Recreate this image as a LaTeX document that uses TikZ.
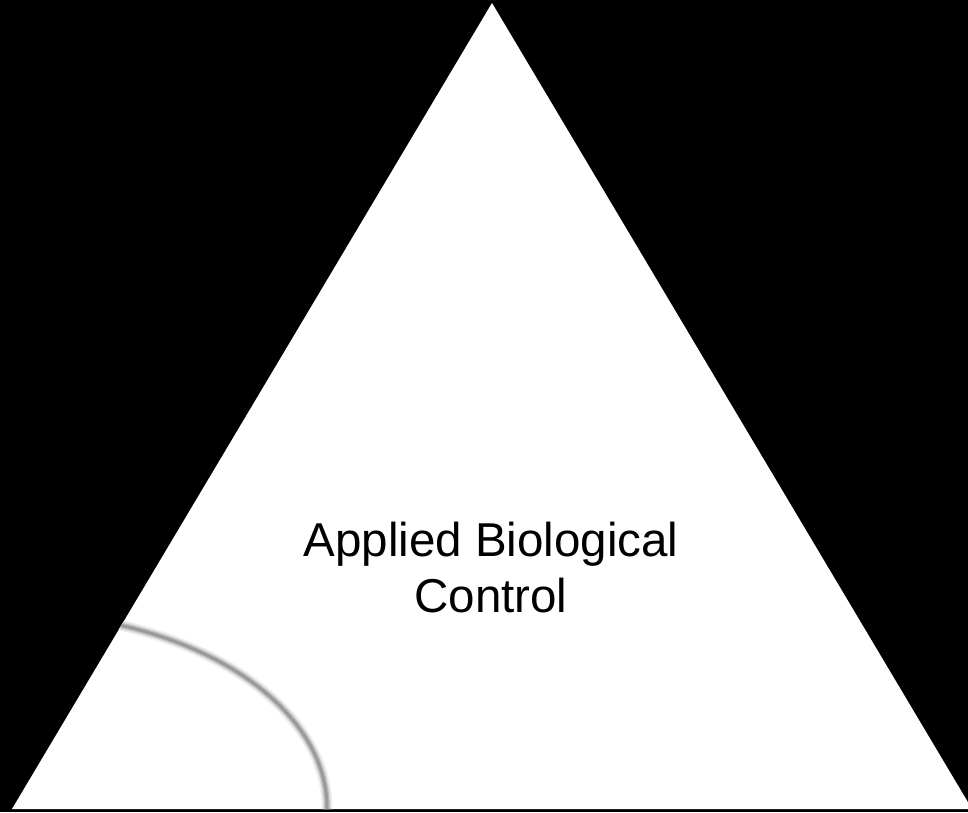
\documentclass[tikz,border=0pt]{standalone}
\usepackage{fontspec}
\setmainfont{Liberation Sans}
\usetikzlibrary{positioning,calc}
\definecolor{pyramidfill}{HTML}{FFFFFF}
\definecolor{arcline}{HTML}{9A9A9A}

\begin{document}
\begin{tikzpicture}[x=1pt, y=1pt]
\useasboundingbox (0,0) rectangle (968,812);
\fill[black] (0,0) rectangle (968,812);
\coordinate (top) at (492,809);
\coordinate (left) at (12,3);
\coordinate (right) at (972,3);
\begin{scope}
\clip (0,0) rectangle (968,812);
\fill[pyramidfill] (left) -- (top) -- (right) -- cycle;
% soft grey arc in the lower left corner
\clip (left) -- (top) -- (right) -- cycle;
\coordinate (arcstart) at ($(10,4)+(70:317 and 195)$);
\draw[arcline!15, line width=11pt] (arcstart) arc[start angle=70, end angle=-5, x radius=317, y radius=195];
\draw[arcline!35, line width=8pt] (arcstart) arc[start angle=70, end angle=-5, x radius=317, y radius=195];
\draw[arcline!65, line width=5.5pt] (arcstart) arc[start angle=70, end angle=-5, x radius=317, y radius=195];
\draw[arcline, line width=3pt] (arcstart) arc[start angle=70, end angle=-5, x radius=317, y radius=195];
\end{scope}
\node[align=center, font=\fontsize{47.5}{56}\selectfont, inner sep=0pt] (label) at (491,244) {Applied Biological\\Control};
\end{tikzpicture}
\end{document}
